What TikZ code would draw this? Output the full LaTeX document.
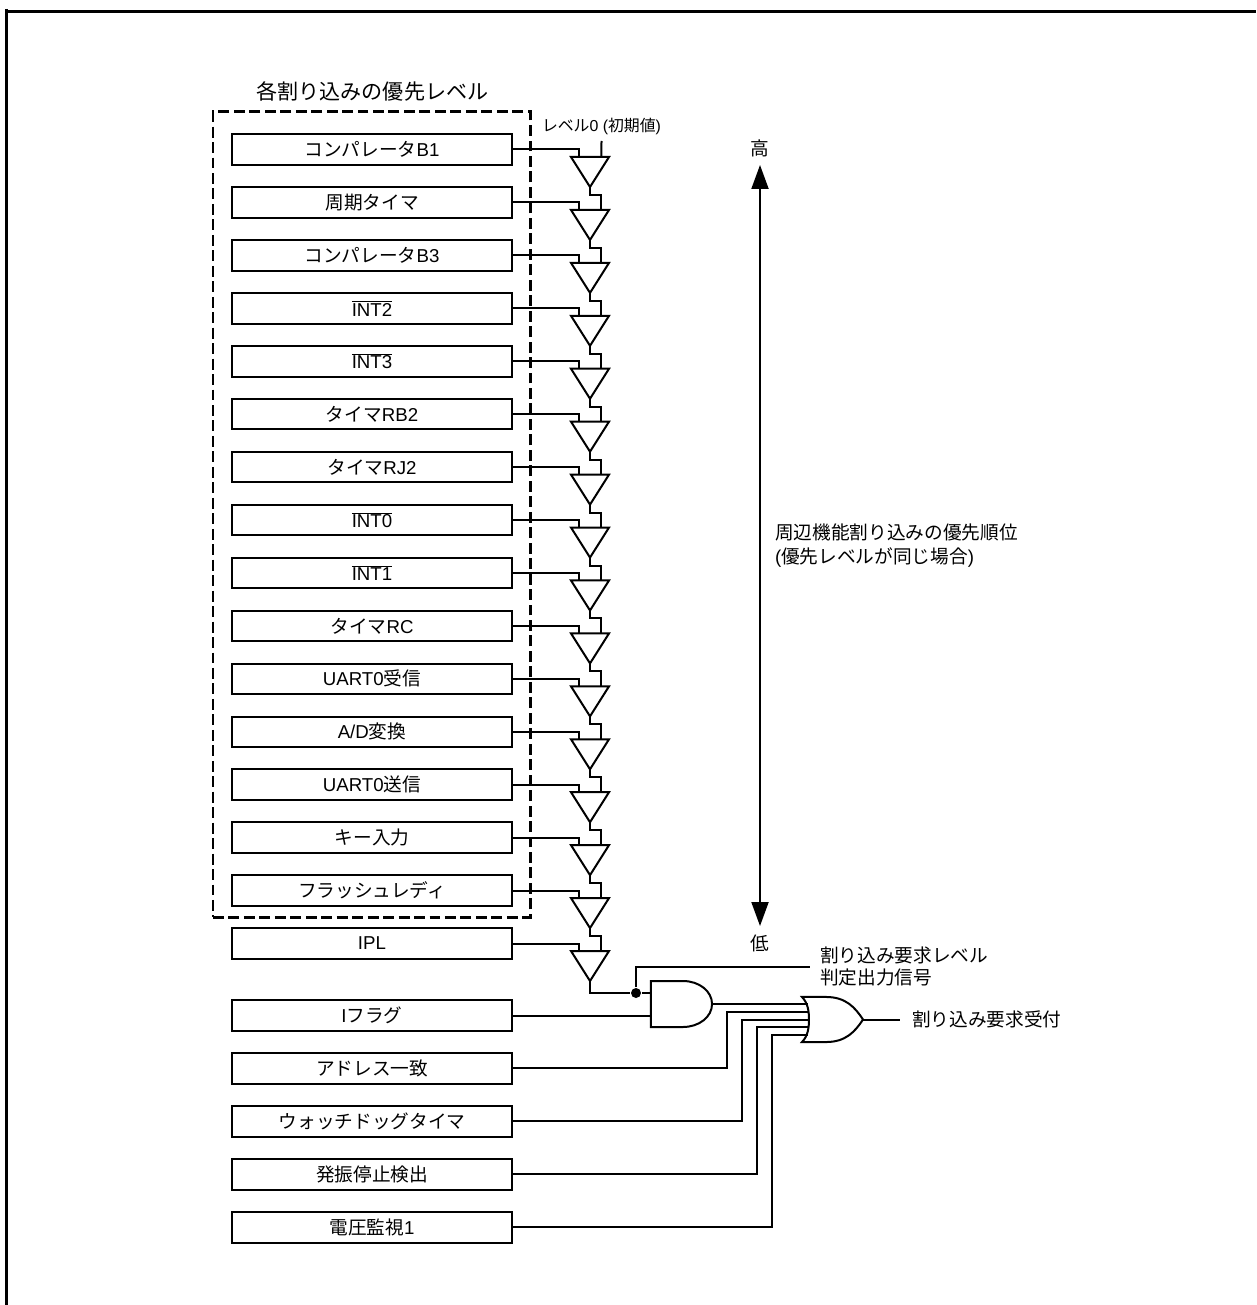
\documentclass[tikz,border=0pt]{standalone}
\usepackage{fontspec}
\setmainfont{Liberation Sans}
\newfontfamily\jp{Noto Sans CJK JP}
\usetikzlibrary{arrows.meta, positioning, calc, shapes.geometric}
\newcommand{\barred}[1]{$\overline{\hbox{#1}}$}

\begin{document}
\begin{tikzpicture}[x=0.75pt, y=-0.75pt, line width=1.5pt,
  font=\fontsize{14}{16.8}\selectfont, node distance=16.8pt,
  srcbox/.style={draw, minimum width=210pt, minimum height=22.9pt, inner sep=0pt, outer sep=0pt},
  buffer/.style={draw, isosceles triangle, isosceles triangle stretches, shape border rotate=270,
    minimum width=28.5pt, minimum height=22.5pt, inner sep=0pt, outer sep=0pt, anchor=apex},
  gatebody/.style={minimum width=45.8pt, inner sep=0pt, outer sep=0pt},
  label/.style={inner sep=0pt, outer sep=0pt},
  tick/.style={label, minimum height=25.5pt},
  fullarrow/.style={{Triangle[length=18pt,width=12.75pt]}-{Triangle[length=18pt,width=12.75pt]}}]
\useasboundingbox (0,0) rectangle (1256,1305);

% frame
\draw[line width=2.2pt] (6.5,9) -- (6.5,1305);
\draw[line width=2.2pt] (5,11.5) -- (1256,11.5);

% priority sources
\node[srcbox] (lvl0) at (372,149.5) {{\jp コンパレータ}B1};
\node[srcbox, below=of lvl0] (lvl1) {\jp 周期タイマ};
\node[srcbox, below=of lvl1] (lvl2) {{\jp コンパレータ}B3};
\node[srcbox, below=of lvl2] (lvl3) {\barred{INT2}};
\node[srcbox, below=of lvl3] (lvl4) {\barred{INT3}};
\node[srcbox, below=of lvl4] (lvl5) {{\jp タイマ}RB2};
\node[srcbox, below=of lvl5] (lvl6) {{\jp タイマ}RJ2};
\node[srcbox, below=of lvl6] (lvl7) {\barred{INT0}};
\node[srcbox, below=of lvl7] (lvl8) {\barred{INT1}};
\node[srcbox, below=of lvl8] (lvl9) {{\jp タイマ}RC};
\node[srcbox, below=of lvl9] (lvl10) {UART0{\jp 受信}};
\node[srcbox, below=of lvl10] (lvl11) {A/D{\jp 変換}};
\node[srcbox, below=of lvl11] (lvl12) {UART0{\jp 送信}};
\node[srcbox, below=of lvl12] (lvl13) {\jp キー入力};
\node[srcbox, below=of lvl13] (lvl14) {\jp フラッシュレディ};
\node[srcbox, below=of lvl14] (lvl15) {IPL};
\node[srcbox, below=31.1pt of lvl15] (flag) {I{\jp フラグ}};
\node[srcbox, below=of flag] (addr) {\jp アドレス一致};
\node[srcbox, below=of addr] (wdt) {\jp ウォッチドッグタイマ};
\node[srcbox, below=of wdt] (osc) {\jp 発振停止検出};
\node[srcbox, below=of osc] (volt) {{\jp 電圧監視}1};

\node[draw, line width=2.2pt, dash pattern=on 8.2pt off 3.4pt, minimum width=237.8pt,
  minimum height=603.8pt, inner sep=0pt] (group) at (371.5,514.5) {};
\node[label, above=7pt of group, xshift=0.7pt, font=\fontsize{15.8}{18}\selectfont\jp] (title) {各割り込みの優先レベル};

\node[label, minimum height=22.5pt, font=\fontsize{11.9}{13}\selectfont] (lv0) at (601.5,126) {{\jp レベル}0 ({\jp 初期値})};

% buffer chain
\foreach \i in {0,...,15}
  \node[buffer] (tri\i) at ($(lvl\i.east)+(78,37.5)$) {};
\foreach \i in {0,...,15}
  \draw (lvl\i.east) -| ($(tri\i.right corner)!.2!(tri\i.left corner)$);
\foreach \i [count=\j from 1] in {0,...,14}
  \draw (tri\i.apex) -- ++(0,8) -| ($(tri\j.right corner)!.8!(tri\j.left corner)$);
\draw (lv0.south) -- ($(tri0.right corner)!.8!(tri0.left corner)$);

% gates
\node[gatebody, minimum height=34.5pt] (andg) at (681.5,1004) {};
\draw (andg.north west) -- ++(32,0) .. controls +(16,0) and +(0,-13) .. (andg.east)
  .. controls +(0,13) and +(16,0) .. ($(andg.south west)+(32,0)$) -- (andg.south west) -- cycle;
\node[gatebody, minimum height=33.8pt] (org) at (832.5,1019.5) {};
\draw (org.north west) -- ++(24,0) .. controls +(20,0) and +(-8,-12) .. (org.east)
  .. controls +(-8,12) and +(20,0) .. ($(org.south west)+(24,0)$) -- (org.south west)
  .. controls +(6,-6) and +(0,8) .. ($(org.west)+(7,0)$)
  .. controls +(0,-8) and +(6,6) .. (org.north west) -- cycle;
\foreach \i/\d in {1/-15.5, 2/-7.6, 3/0, 4/7.6, 5/15.2}
  \coordinate (orin\i) at ($(org.west)+(6,\d)$);
\node[circle, fill, minimum size=7.5pt, inner sep=0pt] (jct) at (636,993) {};

\node[label, anchor=west, align=left, inner sep=7.5pt] (level) at (810,966.5) {\jp 割り込み要求レベル\\\jp 判定出力信号};
\node[label, anchor=west, inner sep=9pt] (accept) at (900,1019.5) {\jp 割り込み要求受付};

\draw (tri15.apex) |- (jct);
\draw (jct) -- (andg.west |- jct);
\draw (jct) |- (level.west);
\draw (flag.east) -- (andg.west |- flag.east);
\draw (andg.east) -- (orin1);
\draw (addr.east) -- ++(215,0) |- (orin2);
\draw (wdt.east) -- ++(230,0) |- (orin3);
\draw (osc.east) -- ++(245,0) |- (orin4);
\draw (volt.east) -- ++(260,0) |- (orin5);
\draw (org.east) -- (accept.west);

% priority axis
\node[tick, font=\fontsize{14}{16.8}\selectfont\jp] (high) at (760,148) {高};
\node[tick, font=\fontsize{14}{16.8}\selectfont\jp] (low) at (760,943) {低};
\draw[fullarrow] (high) -- (low);
\node[label, anchor=west, align=left, font=\fontsize{14}{18}\selectfont] (axis) at (775,546) {{\jp 周辺機能割り込みの優先順位}\\({\jp 優先レベルが同じ場合})};
\end{tikzpicture}
\end{document}
